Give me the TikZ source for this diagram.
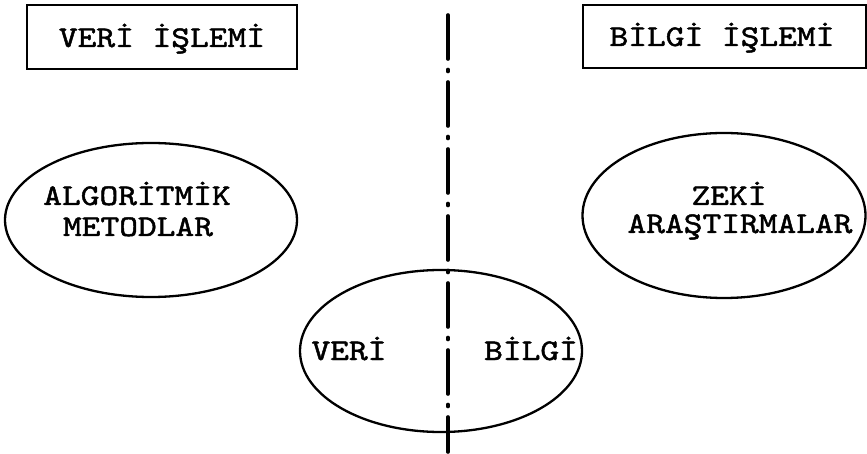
\documentclass[tikz,border=0pt]{standalone}
\usepackage{fontspec}
\newfontfamily\tw{lmmono10-regular.otf}[FakeStretch=1.19,FakeBold=1.6]
\usetikzlibrary{shapes.geometric}
\begin{document}
\begin{tikzpicture}[x=1pt,y=-1pt,
  lbl/.style={anchor=base,inner sep=0pt,font=\fontsize{30}{30}\tw},
  titlebox/.style={draw,line width=2.2pt,inner sep=0pt},
  oval/.style={draw,ellipse,line width=2.3pt,inner sep=0pt},
  divider/.style={line width=3.6pt,line cap=round,dash pattern=on 44pt off 10.5pt on 2pt off 10.5pt}]
\useasboundingbox (0,0) rectangle (867,454);
% title boxes
\node[titlebox,minimum width=270pt,minimum height=64pt] (lbox) at (162,37) {};
\node[titlebox,minimum width=283pt,minimum height=63pt] (rbox) at (724.5,36.5) {};
\node[lbl] (lboxt) at (162,47) {VERİ İŞLEMİ};
\node[lbl] (rboxt) at (722,46) {BİLGİ İŞLEMİ};
% ellipses
\node[oval,minimum width=292pt,minimum height=154pt] (lell) at (151,220) {};
\node[oval,minimum width=283pt,minimum height=165pt] (rell) at (724,215.5) {};
\node[oval,minimum width=282pt,minimum height=162pt] (bell) at (441,351) {};
% ellipse texts
\node[lbl] (alg) at (137,205) {ALGORİTMİK};
\node[lbl] (met) at (138,236) {METODLAR};
\node[lbl] (zek) at (729,205) {ZEKİ};
\node[lbl] (ara) at (740,233) {ARAŞTIRMALAR};
\node[lbl] (veri) at (349,360) {VERİ};
\node[lbl] (bilgi) at (531,360) {BİLGİ};
% divider
\coordinate (dtop) at (448,15);
\coordinate (dbot) at (448,452);
\draw[divider] (dtop) -- (dbot);
\end{tikzpicture}
\end{document}
